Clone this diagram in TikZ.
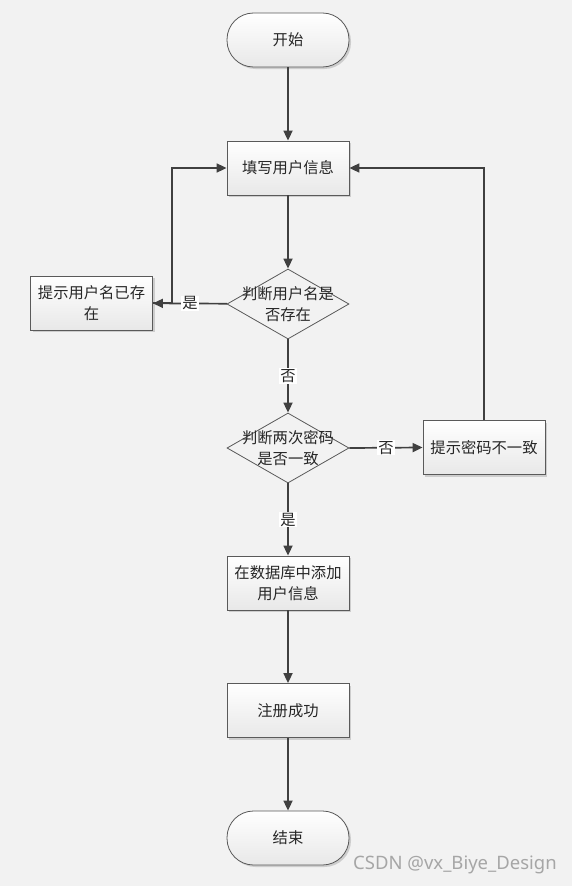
\documentclass[tikz,border=0pt]{standalone}
\usepackage{fontspec}
\newfontfamily\cjk{Noto Sans CJK SC}
\newfontfamily\wmfont{Noto Sans}
\usetikzlibrary{shapes.geometric,arrows.meta,shadows}
\definecolor{bg}{RGB}{242,242,242}
\definecolor{ink}{RGB}{64,64,64}
\definecolor{edge}{RGB}{90,90,90}
\begin{document}
\begin{tikzpicture}[x=1pt,y=-1pt,
  base/.style={font=\cjk\fontsize{15.3}{21}\selectfont, text=black!85, align=center},
  proc/.style={base, draw=edge, line width=0.8pt, minimum width=122pt, minimum height=54pt,
    inner sep=0pt, top color=white, bottom color=black!9,
    drop shadow={shadow xshift=2pt, shadow yshift=-2pt, fill=black, opacity=0.15}},
  term/.style={proc, rounded corners=26.5pt},
  dec/.style={diamond, draw=edge, line width=0.8pt, minimum width=122pt, minimum height=70pt,
    inner sep=0pt, fill=bg},
  conn/.style={draw=ink, line width=1.7pt, -{Triangle[length=10pt,width=9pt]}},
  lab/.style={base, fill=white, inner sep=1pt}
]
\fill[bg] (0,0) rectangle (572,886);
\useasboundingbox (0,0) rectangle (572,886);

\node[term] (start) at (288,40) {开始};
\node[proc] (fill) at (288,168) {填写用户信息};
\node[proc] (tip1) at (91.5,303) {提示用户名已存\\在};
\node[dec] (d1) at (288,304) {};
\node[base] (d1t) at (288,304) {判断用户名是\\否存在};
\node[dec] (d2) at (288,448) {};
\node[base] (d2t) at (288,448) {判断两次密码\\是否一致};
\node[proc] (tip2) at (484,447.5) {提示密码不一致};
\node[proc] (db) at (288,583) {在数据库中添加\\用户信息};
\node[proc] (ok) at (288,710.5) {注册成功};
\node[term] (end) at (288,838) {结束};

\draw[conn] (start) -- (fill);
\draw[conn] (fill) -- (d1);
\draw[conn] (d1) -- node[lab] {是} (tip1);
\draw[conn] (tip1.east) -- ++(19,0) |- (fill.west);
\draw[conn] (d1) -- node[lab] {否} (d2);
\draw[conn] (d2.east) -- node[lab] {否} (tip2.west);
\draw[conn] (tip2) |- (fill.east);
\draw[conn] (d2) -- node[lab] {是} (db);
\draw[conn] (db) -- (ok);
\draw[conn] (ok) -- (end);

\node[font=\wmfont\fontsize{18.5}{19}\selectfont, text=black!35] (wm) at (455,865) {CSDN @vx\_Biye\_Design};
\end{tikzpicture}
\end{document}
